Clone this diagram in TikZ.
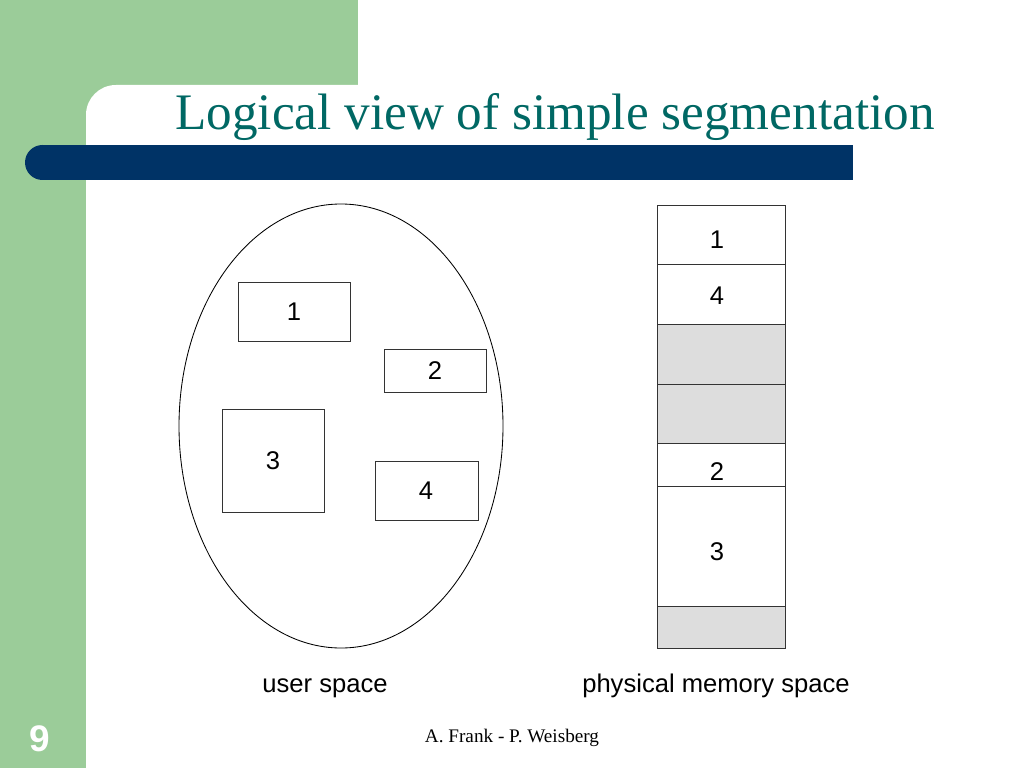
\documentclass[tikz,border=0pt]{standalone}
\usepackage{fontspec}
\setmainfont{Liberation Serif}
\newfontfamily\arial{Liberation Sans}
\definecolor{slidegreen}{RGB}{155,204,153}
\definecolor{slideblue}{RGB}{0,51,102}
\definecolor{titleteal}{RGB}{0,104,100}
\definecolor{holegray}{RGB}{221,221,221}
\begin{document}
\begin{tikzpicture}[x=0.703125pt,y=-0.703125pt,
  every node/.style={font=\arial\fontsize{18}{21}\selectfont,inner sep=0pt},
  segline/.style={draw=black!80,line width=0.6pt}]
  \useasboundingbox (0,0) rectangle (1024,768);
  % slide background
  \fill [slidegreen] (0,0) rectangle (358,115);
  \fill [slidegreen] (0,0) rectangle (86,768);
  \fill [white,rounded corners=21pt] (86,85) rectangle (1024,768);
  \fill [slideblue] (42.5,145) rectangle (853,180);
  \fill [slideblue] (42.5,162.5) circle (17.5);
  \node (title) [anchor=base west,text=titleteal,font=\fontsize{36}{40}\selectfont] at (175,130) {Logical view of simple segmentation};
  % user space
  \draw [black,line width=0.6pt] (341,426) ellipse [x radius=162,y radius=222];
  \draw [segline] (238,282) rectangle (350,341);
  \draw [segline] (384,349) rectangle (486,392);
  \draw [segline] (222,409) rectangle (324,512);
  \draw [segline] (375,461) rectangle (478,520);
  \node (u1) at (294,312) {1};
  \node (u2) at (435,371) {2};
  \node (u3) at (273,461) {3};
  \node (u4) at (426,491) {4};
  % physical memory
  \fill [holegray] (657,324) rectangle (785,443);
  \fill [holegray] (657,606) rectangle (785,648);
  \draw [segline] (657,205) rectangle (785,648);
  \foreach \y in {264,324,384,443,486,606}
    \draw [segline] (657,\y) -- (785,\y);
  \node (p1) at (717,240) {1};
  \node (p4) at (717,296) {4};
  \node (p2) at (717,472) {2};
  \node (p3) at (717,552) {3};
  \node (uspace) [anchor=base] at (325,692) {user space};
  \node (pspace) [anchor=base] at (716,692) {physical memory space};
  % footer
  \node (author) [anchor=base,font=\fontsize{13.5}{15}\selectfont] at (512,742) {A. Frank - P. Weisberg};
  \node (pagenum) [text=white,font=\arial\bfseries\fontsize{26}{28}\selectfont] at (40,738.5) {9};
\end{tikzpicture}
\end{document}
